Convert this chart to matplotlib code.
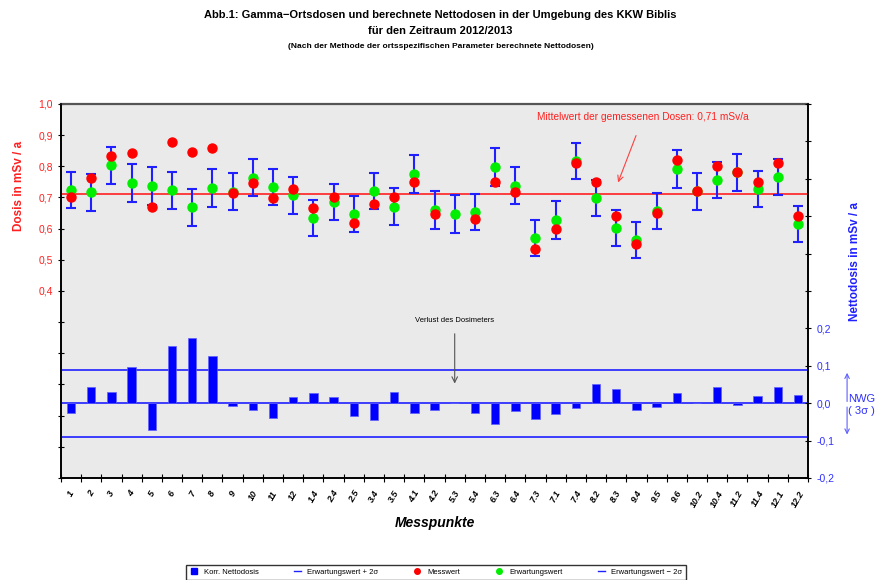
import numpy as np
import matplotlib.pyplot as plt
from matplotlib.lines import Line2D
from matplotlib.patches import FancyArrowPatch

plt.rcParams['font.family'] = ['Liberation Sans', 'DejaVu Sans']

# Messpunkte
punkte = ['1', '2', '3', '4', '5', '6', '7', '8', '9', '10', '11', '12',
          '1.4', '2.4', '2.5', '3.4', '3.5', '4.1', '4.2', '5.3', '5.4', '6.3',
          '6.4', '7.3', '7.1', '7.4', '8.2', '8.3', '9.4', '9.5', '9.6', '10.2',
          '10.4', '11.2', '11.4', '12.1', '12.2']

# Messwert (mSv/a), None = Verlust des Dosimeters
messwert = [0.703, 0.764, 0.833, 0.844, 0.668, 0.879, 0.845, 0.858, 0.716, 0.748,
            0.698, 0.726, 0.665, 0.702, 0.617, 0.678, 0.703, 0.751, 0.646, None,
            0.631, 0.749, 0.719, 0.534, 0.600, 0.810, 0.751, 0.641, 0.551, 0.649,
            0.820, 0.720, 0.800, 0.781, 0.751, 0.810, 0.641]

# Erwartungswert (mSv/a)
erwartung = [0.724, 0.717, 0.803, 0.746, 0.738, 0.723, 0.668, 0.730, 0.719, 0.764,
             0.734, 0.707, 0.635, 0.685, 0.646, 0.721, 0.671, 0.775, 0.660, 0.647,
             0.654, 0.798, 0.738, 0.571, 0.628, 0.817, 0.698, 0.601, 0.564, 0.658,
             0.791, 0.720, 0.755, 0.781, 0.728, 0.765, 0.616]

# 2 sigma
sigma2 = [0.058, 0.059, 0.059, 0.060, 0.061, 0.059, 0.058, 0.060, 0.060, 0.058,
          0.058, 0.060, 0.058, 0.058, 0.058, 0.059, 0.060, 0.060, 0.060, 0.060,
          0.058, 0.060, 0.060, 0.058, 0.060, 0.058, 0.058, 0.058, 0.058, 0.058,
          0.060, 0.060, 0.058, 0.059, 0.058, 0.058, 0.058]

# Korr. Nettodosis (mSv/a)
netto = [-0.026, 0.044, 0.029, 0.098, -0.072, 0.153, 0.175, 0.125, -0.007, -0.017,
         -0.039, 0.017, 0.026, 0.017, -0.033, -0.044, 0.029, -0.026, -0.017, 0.0,
         -0.026, -0.055, -0.022, -0.041, -0.029, -0.013, 0.051, 0.039, -0.017, -0.011,
         0.026, 0.0, 0.044, -0.004, 0.020, 0.044, 0.023]

mittelwert = 0.71
nwg = 0.09

x = np.arange(len(punkte))
mess = np.array([np.nan if m is None else m for m in messwert])

fig = plt.figure(figsize=(8.81, 5.80), dpi=100)
ax = fig.add_axes([0.0692, 0.1759, 0.848, 0.6448])
ax.set_facecolor('#EAEAEA')
ax2 = ax.twinx()

# obere Grafik: Dosen
ax.errorbar(x, erwartung, yerr=sigma2, fmt='none', ecolor='#2020FF', elinewidth=1.5,
            capsize=3.5, capthick=1.5, zorder=2)
ax.axhline(mittelwert, color='#FF2020', lw=1.2, zorder=1)
ax.plot(x, erwartung, 'o', color='#00EE00', ms=6.5, zorder=3)
ax.plot(x, mess, 'o', color='#FF0000', ms=6.5, zorder=4)

ax.set_xlim(-0.5, len(punkte) - 0.5)
ax.set_ylim(-0.2, 1.0)
ax.set_yticks(np.round(np.arange(-0.2, 1.01, 0.1), 1))
ax.set_yticklabels(['' if v < 0.35 else f'{v:.1f}'.replace('.', ',')
                    for v in np.arange(-0.2, 1.01, 0.1)])
ax.tick_params(axis='y', colors='black', labelcolor='#FF2020', labelsize=7.5,
               direction='inout', length=5)
ax.set_ylabel('Dosis in mSv / a', color='#FF2020', fontweight='bold', fontsize=8.5)
ax.yaxis.set_label_coords(-0.048, 0.78)

ax.set_xticks(np.arange(len(punkte) + 1) - 0.5)
ax.set_xticklabels([])
ax.set_xticks(x, minor=True)
ax.set_xticklabels(punkte, minor=True, rotation=60, fontsize=6.5, fontweight='bold',
                   fontstyle='italic', ha='center', va='top')
ax.tick_params(axis='x', which='major', direction='inout', length=6)
ax.tick_params(axis='x', which='minor', length=0, pad=8)
ax.set_xlabel('Messpunkte', fontsize=10, fontweight='bold', fontstyle='italic', labelpad=5)

# untere Grafik: Nettodosis
ax2.bar(x, netto, width=0.42, color='#0000FF', edgecolor='#6060FF', lw=0.5, zorder=2)
for h in (nwg, 0.0, -nwg):
    ax2.axhline(h, color='#2020FF', lw=1.2, zorder=1)
ax2.set_ylim(-0.2, 0.8)
ax2.set_yticks(np.round(np.arange(-0.2, 0.81, 0.1), 1))
ax2.set_yticklabels([f'{v:.1f}'.replace('.', ',') if v < 0.25 else ''
                     for v in np.round(np.arange(-0.2, 0.81, 0.1), 1)])
ax2.tick_params(axis='y', labelcolor='#3030FF', labelsize=7.5, direction='inout', length=5)
ax2.set_ylabel('Nettodosis in mSv / a', color='#2020FF', fontweight='bold', fontsize=8.5)
ax2.yaxis.set_label_coords(1.055, 0.58)

ax.spines['top'].set_color('#555555')
ax.spines['top'].set_linewidth(1.6)
ax2.spines['top'].set_visible(False)
for s in ('left', 'bottom', 'right'):
    ax.spines[s].set_linewidth(1.2)
    ax2.spines[s].set_linewidth(1.2)

# Annotationen
ax.text(28.3, 0.958, 'Mittelwert der gemessenen Dosen: 0,71 mSv/a', color='#FF2020',
        fontsize=7.3, ha='center', va='center')
ax.annotate('', xy=(27.04, 0.74), xytext=(28.03, 0.907),
            arrowprops=dict(arrowstyle='->', color='#FF4040', lw=0.8))
ax2.text(19, 0.222, 'Verlust des Dosimeters', fontsize=5.5, ha='center', va='center')
ax2.annotate('', xy=(19, 0.045), xytext=(19, 0.193),
             arrowprops=dict(arrowstyle='->', color='#555555', lw=0.8))
fig.text(0.9625, 0.302, 'NWG\n( 3\u03c3 )', color='#3030FF', fontsize=8, ha='left', va='center',
         linespacing=1.3)
for y_end in (0.362, 0.246):
    fig.patches.append(FancyArrowPatch(
        (0.9615, 0.303), (0.9615, y_end), transform=fig.transFigure,
        arrowstyle='->', color='#6060FF', lw=0.8, mutation_scale=8))

# Titel
fig.text(0.5, 0.974, 'Abb.1: Gamma\u2212Ortsdosen und berechnete Nettodosen in der Umgebung des KKW Biblis',
         ha='center', va='center', fontsize=8, fontweight='bold')
fig.text(0.5, 0.947, 'f\u00fcr den Zeitraum 2012/2013', ha='center', va='center',
         fontsize=8, fontweight='bold')
fig.text(0.5, 0.920, '(Nach der Methode der ortsspezifischen Parameter berechnete Nettodosen)',
         ha='center', va='center', fontsize=6, fontweight='bold')

# Legende
handles = [
    Line2D([], [], ls='none', marker='s', color='#0000FF', ms=4),
    Line2D([], [], color='#2020FF', lw=1),
    Line2D([], [], ls='none', marker='o', color='#FF0000', ms=4),
    Line2D([], [], ls='none', marker='o', color='#00EE00', ms=4),
    Line2D([], [], color='#2020FF', lw=1),
]
labels = ['Korr. Nettodosis', 'Erwartungswert + 2\u03c3', 'Messwert', 'Erwartungswert',
          'Erwartungswert \u2212 2\u03c3']
fig.legend(handles, labels, loc='upper center', bbox_to_anchor=(0.495, 0.033), ncol=5,
           fontsize=5.5, frameon=True, fancybox=False, edgecolor='black',
           handlelength=1.0, columnspacing=4.6, borderpad=0.5)

fig.savefig('out.png', dpi=100)
